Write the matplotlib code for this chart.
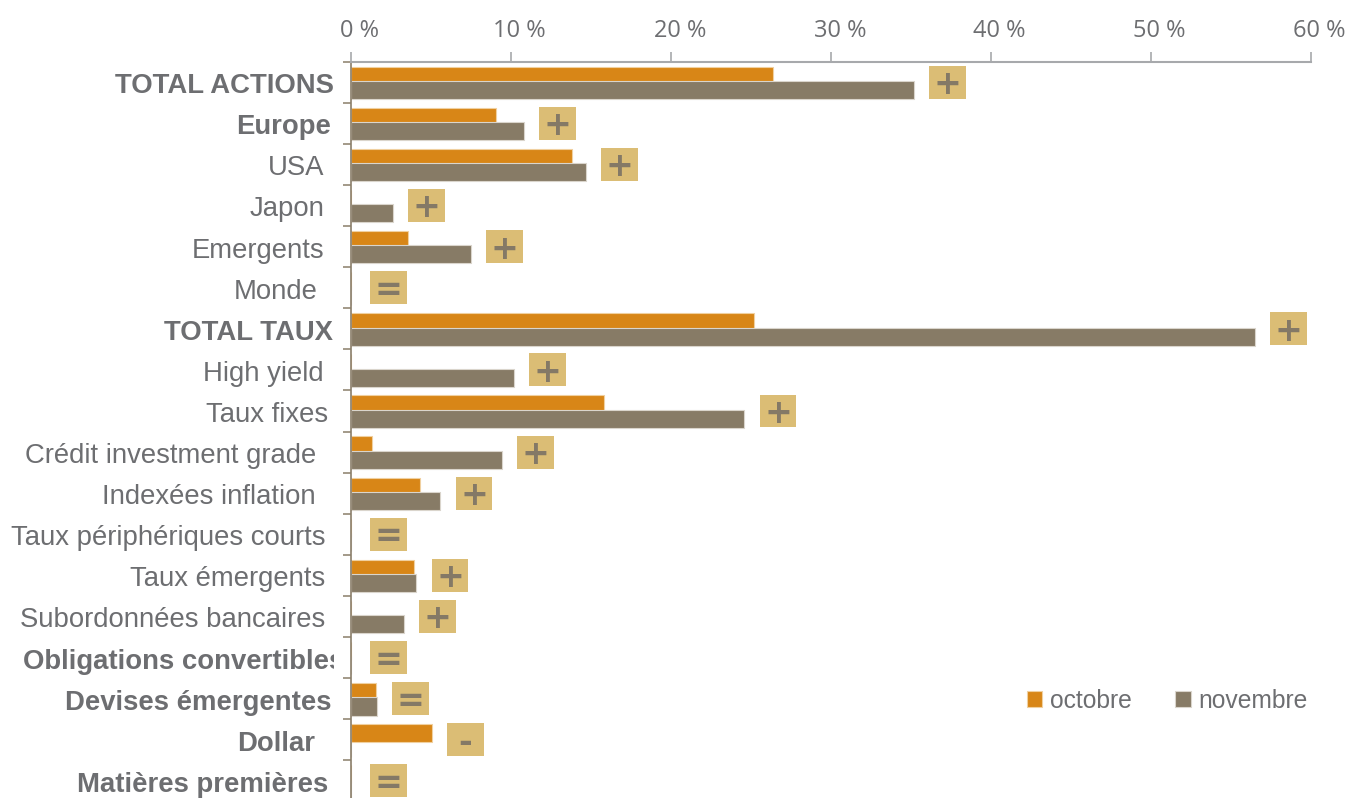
import numpy as np
import matplotlib
matplotlib.use('Agg')
import matplotlib.pyplot as plt
from matplotlib.patches import Rectangle
from matplotlib.transforms import ScaledTranslation, Bbox

plt.rcParams['font.family'] = ['Liberation Sans', 'DejaVu Sans']

# data (% of allocation)
categories = ['TOTAL ACTIONS', 'Europe', 'USA', 'Japon', 'Emergents', 'Monde',
              'TOTAL TAUX', 'High yield', 'Taux fixes', 'Crédit investment grade',
              'Indexées inflation', 'Taux périphériques courts', 'Taux émergents',
              'Subordonnées bancaires', 'Obligations convertibles',
              'Devises émergentes', 'Dollar', 'Matières premières']
bold_rows = ['TOTAL ACTIONS', 'Europe', 'TOTAL TAUX', 'Obligations convertibles',
             'Devises émergentes', 'Dollar', 'Matières premières']
octobre = [26.4, 9.1, 13.8, 0, 3.6, 0, 25.2, 0, 15.8, 1.35, 4.35, 0, 3.95, 0, 0, 1.55, 5.05, 0]
novembre = [35.2, 10.8, 14.7, 2.65, 7.5, 0, 56.5, 10.2, 24.6, 9.45, 5.6, 0, 4.1, 3.3, 0, 1.65, 0, 0]
signals = ['+', '+', '+', '+', '+', '=', '+', '+', '+', '+', '+', '=', '+', '+', '=', '=', '-', '=']
xticks = [0, 10, 20, 30, 40, 50, 60]
xlabels = ['0 %', '10 %', '20 %', '30 %', '40 %', '50 %', '60 %']

# colours
c_oct = '#D88617'
c_nov = '#877B66'
c_badge = '#DBBD75'
c_sign = '#847966'
c_text = '#6D6E71'
c_top = '#A7A9AC'
c_left = '#8A7E6A'

# right edge of each category label, pixels left of the axis (trailing spaces in the original)
label_gap = [17, 20, 26, 26, 26, 33, 18, 27, 23, 35, 35, 25, 26, 26, 0, 19, 36, 23]

fig = plt.figure(figsize=(13.46, 7.98), dpi=100)
ax = fig.add_axes([0.2606, -0.0043, 0.7132, 0.9271])

y = np.arange(len(categories))
ax.barh(y - 0.16, octobre, height=0.44, color=c_oct, edgecolor='#F0D0A0',
        linewidth=0.8, label='octobre', zorder=2)
ax.barh(y + 0.19, novembre, height=0.44, color=c_nov, edgecolor='#DAD5CC',
        linewidth=0.8, label='novembre', zorder=2.2)

# indicator badges
bw, bh = 2.3, 0.8
sign_shift = ScaledTranslation(0, -0.12, fig.dpi_scale_trans)
for i, s in enumerate(signals):
    left = max(max(octobre[i], novembre[i]) + 0.95, 1.2)
    ax.add_patch(Rectangle((left, i - bh / 2), bw, bh, fc=c_badge, ec='none', zorder=3))
    ax.text(left + bw / 2, i, s, ha='center', va='baseline', fontsize=24,
            fontweight='bold', color=c_sign, family='DejaVu Sans', zorder=4,
            transform=ax.transData + sign_shift)

ax.set_xlim(0, 60)
ax.set_ylim(17.5, -0.5)

# top axis
ax.xaxis.tick_top()
ax.set_xticks(xticks)
ax.set_xticklabels(xlabels, fontsize=17, family='Open Sans')
ax.tick_params(axis='x', length=6.9, width=1.2, color=c_top, pad=6.7, labelcolor=c_text)
for lab in ax.get_xticklabels():
    lab.set_transform(lab.get_transform() + ScaledTranslation(0.09, 0, fig.dpi_scale_trans))

# left axis: ticks between categories, labels drawn by hand
ax.set_yticks([])
ax.set_yticks(np.arange(-0.5, 18, 1), minor=True)
ax.tick_params(axis='y', which='minor', left=True, length=5.5, width=1.1,
               color=c_left, direction='out')

for i, name in enumerate(categories):
    w = 'bold' if name in bold_rows else 'normal'
    if name == 'Obligations convertibles':
        tr = ax.get_yaxis_transform() + ScaledTranslation(-327.7 / 100, -0.11, fig.dpi_scale_trans)
        t = fig.text(0, i, name, transform=tr, ha='left', va='baseline',
                     fontsize=19.8, fontweight=w, color=c_text, clip_on=True)
        t.set_clip_box(Bbox.from_extents(0, 0, 334, 798))
    else:
        tr = ax.get_yaxis_transform() + ScaledTranslation(-label_gap[i] / 100, -0.11,
                                                          fig.dpi_scale_trans)
        ax.text(0, i, name, transform=tr, ha='right', va='baseline',
                fontsize=19.8, fontweight=w, color=c_text)

for sp in ['right', 'bottom']:
    ax.spines[sp].set_visible(False)
ax.spines['top'].set_color(c_top)
ax.spines['top'].set_linewidth(1.5)
ax.spines['left'].set_color(c_left)
ax.spines['left'].set_linewidth(1.2)

leg = fig.legend(loc='center', bbox_to_anchor=(1167 / 1346, 1 - 701 / 798), ncol=2,
                 frameon=False, prop={'family': 'Liberation Sans', 'size': 17.7},
                 handlelength=0.64, handleheight=0.64, handletextpad=0.31,
                 columnspacing=1.76, borderpad=0)
for t in leg.get_texts():
    t.set_color(c_text)

fig.savefig('out.png', dpi=100)
